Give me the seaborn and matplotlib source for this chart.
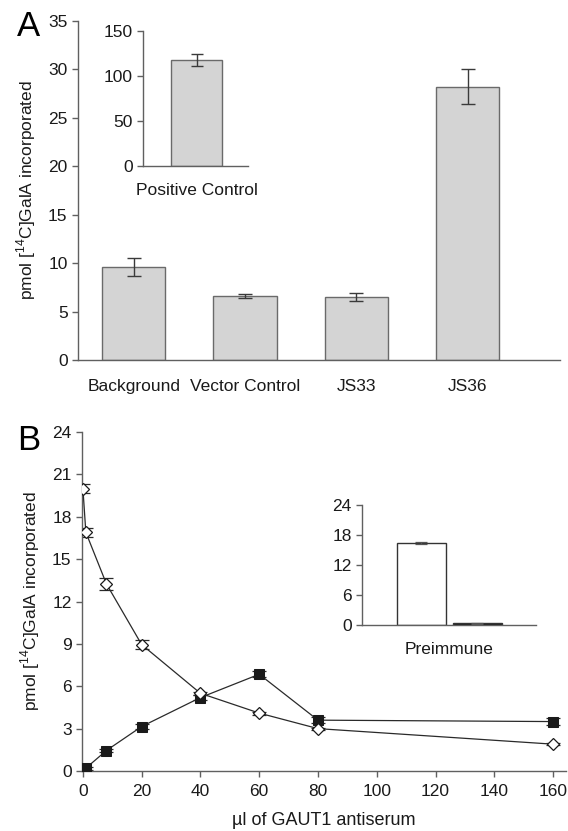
import matplotlib
matplotlib.use("Agg")
import matplotlib.pyplot as plt
import seaborn as sns
import numpy as np
import pandas as pd

sns.set_theme(style="white")
plt.rcParams['font.family'] = ['Liberation Sans', 'DejaVu Sans']
plt.rcParams['mathtext.fontset'] = 'custom'
plt.rcParams['mathtext.rm'] = 'Liberation Sans'

# ---- data: panel A ----
a_cats = ["Background", "Vector Control", "JS33", "JS36"]
a_vals = [9.6, 6.6, 6.5, 28.2]
a_errs = [0.9, 0.2, 0.45, 1.8]
a_inset_cat = ["Positive Control"]
a_inset_val = [118]
a_inset_err = [7]

# ---- data: panel B ----
b_open_x = [0, 1, 8, 20, 40, 60, 80, 160]
b_open_y = [20.0, 16.9, 13.25, 8.95, 5.5, 4.1, 3.0, 1.9]
b_open_err = [0.35, 0.3, 0.45, 0.3, 0.1, 0.1, 0.08, 0.08]
b_fill_x = [1, 8, 20, 40, 60, 80, 160]
b_fill_y = [0.2, 1.45, 3.15, 5.2, 6.85, 3.6, 3.5]
b_fill_err = [0.1, 0.12, 0.15, 0.15, 0.2, 0.2, 0.25]
b_inset_cats = ["open", "filled"]
b_inset_vals = [16.3, 0.3]
b_inset_errs = [0.2, 0.05]

TXT = '#1a1a1a'
SP = '#606060'
FS = 12.5
ylab = r'pmol [$^{14}$C]GalA incorporated'

fig = plt.figure(figsize=(5.68, 8.31), dpi=100)

def style(ax, fs=FS, xticks=False):
    for s in ['top', 'right']:
        ax.spines[s].set_visible(False)
    for s in ['left', 'bottom']:
        ax.spines[s].set_color(SP)
        ax.spines[s].set_linewidth(1.0)
    ax.tick_params(axis='y', which='both', left=True, direction='out', length=4.5,
                   width=1.0, color=SP, labelsize=fs, labelcolor=TXT, pad=3)
    if xticks:
        ax.tick_params(axis='x', bottom=True, direction='out', length=4.5,
                       width=1.0, color=SP, labelsize=fs, labelcolor=TXT, pad=5)
    else:
        ax.tick_params(axis='x', bottom=False, labelsize=fs, labelcolor=TXT, pad=8)
    ax.grid(False)

# ---- Panel A ----
axA = fig.add_axes([0.1373, 0.5668, 0.8487, 0.4079])
dfA = pd.DataFrame({"cat": a_cats, "val": a_vals})
sns.barplot(data=dfA, x="cat", y="val", color="#d4d4d4", edgecolor="#6a6a6a",
            linewidth=1.0, width=0.57, saturation=1, ax=axA)
axA.errorbar(np.arange(len(a_cats)), a_vals, yerr=a_errs, fmt='none',
             ecolor='#3a3a3a', elinewidth=1.0, capsize=5, capthick=1.0)
axA.set_xlim(-0.5, 3.83)
axA.set_ylim(0, 35)
axA.set_yticks(np.arange(0, 36, 5))
axA.set_xlabel("")
axA.set_ylabel(ylab, fontsize=FS, color=TXT, labelpad=7)
style(axA)

# inset A
axAi = fig.add_axes([0.2518, 0.8002, 0.1848, 0.1625])
dfAi = pd.DataFrame({"cat": a_inset_cat, "val": a_inset_val})
sns.barplot(data=dfAi, x="cat", y="val", color="#d4d4d4", edgecolor="#6a6a6a",
            linewidth=1.0, width=0.486, saturation=1, ax=axAi)
axAi.errorbar([0], a_inset_val, yerr=a_inset_err, fmt='none',
              ecolor='#3a3a3a', elinewidth=1.0, capsize=4, capthick=1.0)
axAi.set_xlim(-0.51, 0.49)
axAi.set_ylim(0, 150)
axAi.set_yticks([0, 50, 100, 150])
axAi.set_xlabel("")
axAi.set_ylabel("")
axAi.patch.set_alpha(0)
style(axAi)
axAi.tick_params(axis='x', pad=6)

# ---- Panel B ----
axB = fig.add_axes([0.1444, 0.0722, 0.8521, 0.4079])
dfo = pd.DataFrame({"x": b_open_x, "y": b_open_y})
dff = pd.DataFrame({"x": b_fill_x, "y": b_fill_y})
axB.errorbar(b_open_x, b_open_y, yerr=b_open_err, fmt='none', ecolor='#2a2a2a',
             elinewidth=0.9, capsize=5, capthick=0.9, zorder=2)
axB.errorbar(b_fill_x, b_fill_y, yerr=b_fill_err, fmt='none', ecolor='#2a2a2a',
             elinewidth=0.9, capsize=5, capthick=0.9, zorder=2)
sns.lineplot(data=dff, x="x", y="y", color='#2a2a2a', linewidth=0.9, marker='s',
             markersize=6.5, markerfacecolor='#1a1a1a', markeredgecolor='#1a1a1a',
             ax=axB, zorder=3, sort=False)
sns.lineplot(data=dfo, x="x", y="y", color='#2a2a2a', linewidth=0.9, marker='D',
             markersize=6, markerfacecolor='white', markeredgecolor='#1a1a1a',
             markeredgewidth=0.9, ax=axB, zorder=4, sort=False)
axB.set_ylim(0, 24)
axB.set_yticks(np.arange(0, 25, 3))
axB.set_xticks(np.arange(0, 161, 20))
axB.set_xlabel("µl of GAUT1 antiserum", fontsize=13, color=TXT, labelpad=9)
axB.set_ylabel(ylab, fontsize=FS, color=TXT, labelpad=7)
style(axB, xticks=True)
axB.set_xlim(-0.3, 164.4)

# inset B
axBi = fig.add_axes([0.6373, 0.2479, 0.3064, 0.1444])
dfBi = pd.DataFrame({"cat": b_inset_cats, "val": b_inset_vals})
sns.barplot(data=dfBi, x="cat", y="val", hue="cat",
            palette=["white", "#111111"], edgecolor="#333333",
            linewidth=1.0, width=0.88, saturation=1, legend=False, ax=axBi)
axBi.errorbar([0, 1], b_inset_vals, yerr=b_inset_errs, fmt='none',
              ecolor='#555555', elinewidth=0.9, capsize=4, capthick=0.9)
axBi.set_xlim(-1.07, 2.06)
axBi.set_ylim(0, 24)
axBi.set_yticks([0, 6, 12, 18, 24])
axBi.set_xticks([0.5])
axBi.set_xticklabels(["Preimmune"])
axBi.set_xlabel("")
axBi.set_ylabel("")
axBi.patch.set_alpha(0)
style(axBi)
axBi.tick_params(axis='x', pad=6)

fig.text(0.030, 0.968, "A", fontsize=25, color='black', va='center', ha='left')
fig.text(0.030, 0.470, "B", fontsize=25, color='black', va='center', ha='left')

fig.savefig("out.png", dpi=100)
